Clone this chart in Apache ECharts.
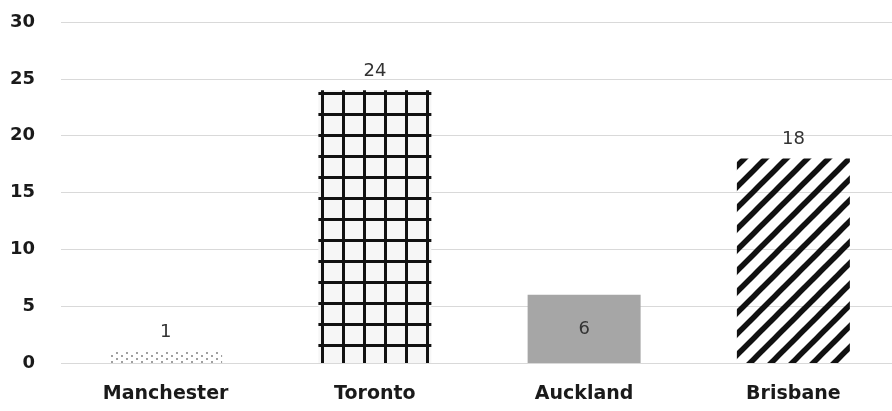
<!DOCTYPE html>
<html>
<head>
<meta charset="utf-8">
<script src="https://cdn.jsdelivr.net/npm/echarts@6/dist/echarts.min.js"></script>
<style>
  html, body { margin: 0; padding: 0; background: #fff; }
  #chart { width: 892px; height: 411px; }
</style>
</head>
<body>
<div id="chart"></div>
<script>
const categories = ['Manchester', 'Toronto', 'Auckland', 'Brisbane']
const values = [1, 24, 6, 18]
const yTicks = [0, 5, 10, 15, 20, 25, 30]

// small canvas tiles used as pattern fills
function tile(w, h, draw) {
  const c = document.createElement('canvas')
  c.width = w
  c.height = h
  draw(c.getContext('2d'), w, h)
  return c
}

const dots = tile(10, 6, (ctx) => {
  ctx.fillStyle = '#a0a0a0'
  ctx.fillRect(1, 1, 2, 2)
  ctx.fillRect(6, 4, 2, 2)
})

const grid = tile(21, 21, (ctx, w, h) => {
  ctx.fillStyle = '#f6f6f6'
  ctx.fillRect(0, 0, w, h)
  ctx.fillStyle = '#111'
  ctx.fillRect(6, 0, 3, h)
  ctx.fillRect(0, 8, w, 3)
})

// diagonal stripes, extended past the tile so corners join up
const stripes = tile(21, 21, (ctx, w, h) => {
  ctx.strokeStyle = '#111'
  ctx.lineWidth = 5.5
  for (let k = -1; k <= 1; k++) {
    ctx.beginPath()
    ctx.moveTo(k * w - 6, h + 6)
    ctx.lineTo(k * w + w + 6, -6)
    ctx.stroke()
  }
})

const fills = [
  { image: dots, repeat: 'repeat' },
  { image: grid, repeat: 'repeat' },
  '#a6a6a6',
  { image: stripes, repeat: 'repeat' },
]

const font = 'DejaVu Sans'
const chart = echarts.init(document.getElementById('chart'))

chart.setOption({
  animation: false,
  grid: { left: 61, right: -6, top: 22, bottom: 48, outerBoundsMode: 'none' },
  xAxis: {
    type: 'category',
    data: categories,
    axisLine: { show: false },
    axisTick: { show: false },
    axisLabel: {
      margin: 22,
      fontFamily: font,
      fontWeight: 'bold',
      fontSize: 19,
      color: '#1a1a1a',
    },
  },
  yAxis: {
    type: 'value',
    min: yTicks[0],
    max: yTicks[yTicks.length - 1],
    interval: 5,
    axisLabel: {
      margin: 26,
      fontFamily: font,
      fontWeight: 'bold',
      fontSize: 18,
      color: '#1a1a1a',
    },
    splitLine: { lineStyle: { color: '#d9d9d9', width: 1 } },
  },
  series: [
    {
      type: 'bar',
      barWidth: '54%',
      data: values.map((v, i) => ({
        value: v,
        itemStyle: { color: fills[i] },
        label: i === 2 ? { position: 'inside' } : {},
      })),
      label: {
        show: true,
        position: 'top',
        distance: 10,
        fontFamily: font,
        fontSize: 18,
        color: '#333',
      },
    },
  ],
})
</script>
</body>
</html>
